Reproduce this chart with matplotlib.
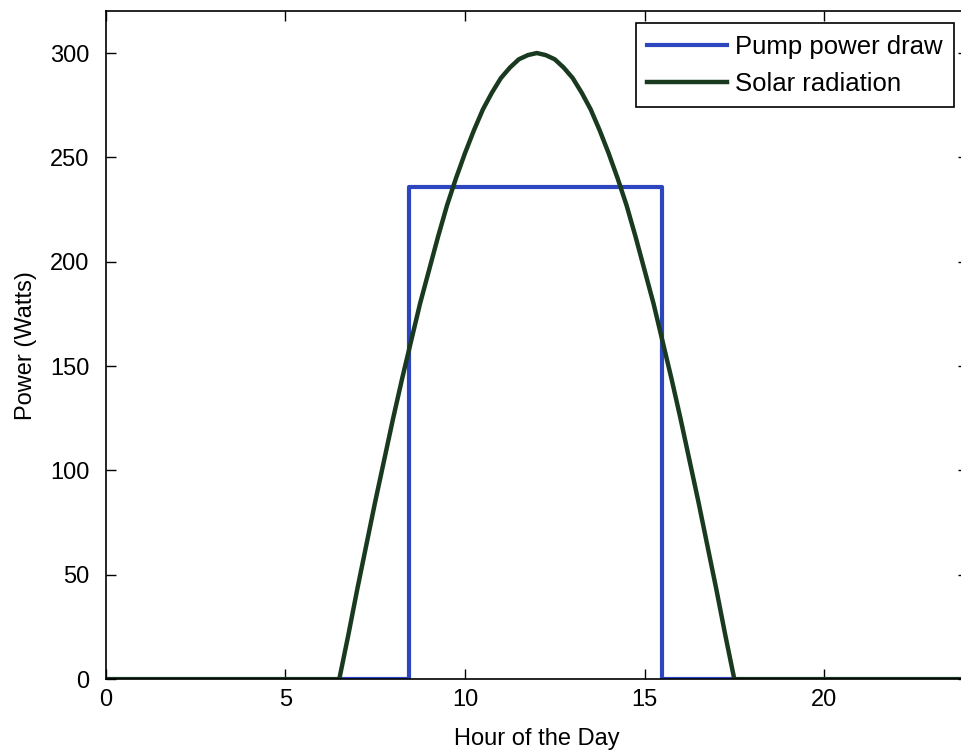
import matplotlib.pyplot as plt

plt.rcParams['font.family'] = ['Liberation Sans', 'DejaVu Sans']

# Pump power draw (step on from ~8.45 h to ~15.5 h)
pump_hours = [0, 8.45, 8.45, 15.5, 15.5, 24]
pump_watts = [0, 0, 236, 236, 0, 0]

# Solar radiation (every quarter hour while the sun is up)
solar_hours = [0, 6.5, 6.75, 7, 7.25, 7.5, 7.75, 8, 8.25, 8.5, 8.75, 9, 9.25,
               9.5, 9.75, 10, 10.25, 10.5, 10.75, 11, 11.25, 11.5, 11.75, 12,
               12.25, 12.5, 12.75, 13, 13.25, 13.5, 13.75, 14, 14.25, 14.5,
               14.75, 15, 15.25, 15.5, 15.75, 16, 16.25, 16.5, 16.75, 17,
               17.25, 17.5, 24]
solar_watts = [0, 0, 21, 43, 64, 85, 105, 125, 144, 162, 180, 196, 212,
               227, 240, 252, 263, 273, 281, 288, 293, 297, 299, 300,
               299, 297, 293, 288, 281, 273, 263, 252, 240, 227,
               212, 196, 180, 162, 144, 125, 105, 85, 64, 43,
               21, 0, 0]

fig = plt.figure(figsize=(9.62, 7.53), dpi=100)
ax = fig.add_axes([0.110, 0.098, 0.896, 0.887])

ax.plot(pump_hours, pump_watts, color='#2e45c0', lw=3.0, label='Pump power draw')
ax.plot(solar_hours, solar_watts, color='#1a3a20', lw=3.2, label='Solar radiation')

ax.set_xlim(0, 24)
ax.set_ylim(0, 320)
ax.set_xticks([0, 5, 10, 15, 20])
ax.set_yticks([0, 50, 100, 150, 200, 250, 300])
ax.tick_params(direction='in', length=7, width=1, labelsize=17,
               top=True, right=True)
ax.tick_params(axis='y', pad=12)
ax.tick_params(axis='x', pad=7)
for s in ax.spines.values():
    s.set_linewidth(1.2)

ax.set_xlabel('Hour of the Day', fontsize=17, labelpad=12)
ax.set_ylabel('Power (Watts)', fontsize=17, labelpad=9)

leg = ax.legend(loc='upper left', bbox_to_anchor=(0.615, 0.982), borderaxespad=0,
                fontsize=18.5, fancybox=False, framealpha=1, edgecolor='black',
                handlelength=3.1, handletextpad=0.3, borderpad=0.45,
                labelspacing=0.5)
leg.get_frame().set_linewidth(1.2)

fig.savefig('out.png', dpi=100)
